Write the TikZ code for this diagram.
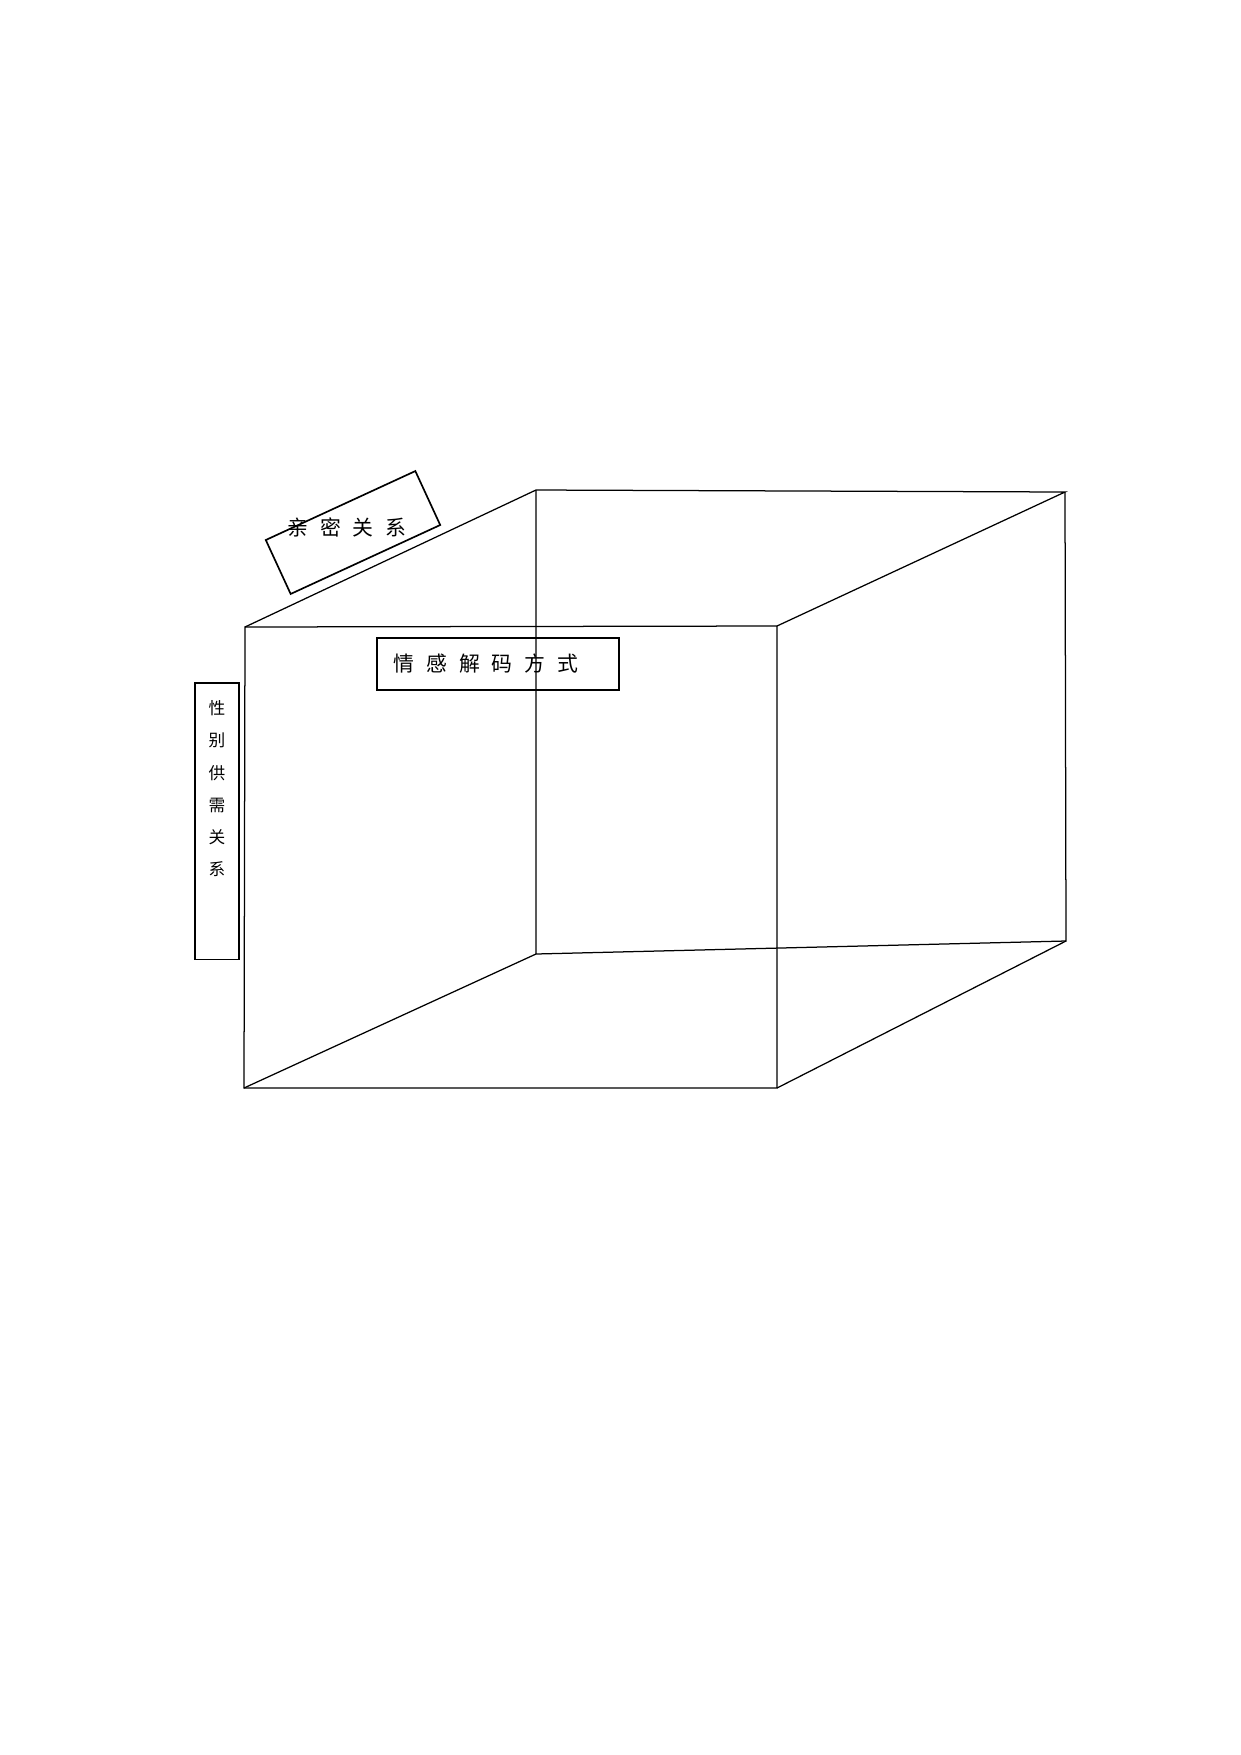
\documentclass[tikz,border=0pt]{standalone}
\usepackage{fontspec}
\newfontfamily\cjk{Noto Sans CJK SC}
\usetikzlibrary{positioning}
\tikzstyle{box}  = [draw,rectangle,line width=0.8pt,inner sep=0pt]
\tikzstyle{word} = [font=\cjk\fontsize{10}{12}\selectfont,inner sep=0pt]
\newcommand{\gap}{\hspace{5.7pt}}

\begin{document}
\begin{tikzpicture}[x=0.4797pt,y=-0.4797pt,line width=0.6pt]
\useasboundingbox (0,0) rectangle (1241,1755);

% corners of the cube
\coordinate (F1) at (245,627);
\coordinate (F2) at (777,626);
\coordinate (F3) at (777,1088);
\coordinate (F4) at (244,1088);
\coordinate (B1) at (536,490);
\coordinate (B2) at (1065,492);
\coordinate (B3) at (1066,941);
\coordinate (B4) at (536,954);

\draw (F1) -- (F2) -- (F3) -- (F4) -- cycle;
\draw (F1) -- (B1) -- (B2) -- (F2);
\draw (B1) -- (B4) -- (B3) -- (B2);
\draw (F4) -- (B4);
\draw (F3) -- (B3);

% axis labels
\node[box, rotate=24.75, minimum width=79pt, minimum height=28.5pt] (L1) at (353,532.5) {};
\node[word] (T1) at (347,527) {亲\gap{}密\gap{}关\gap{}系};

\node[box, minimum width=116.4pt, minimum height=24.7pt] (L2) at (498,664) {};
\node[word] (T2) at ([xshift=-5.8pt]L2.center) {情\gap{}感\gap{}解\gap{}码\gap{}方\gap{}式};

\node[box, minimum width=20.8pt, minimum height=132.5pt] (L3) at (217,821.4) {};
\node[word, font=\cjk\fontsize{8}{15.4}\selectfont, align=center, below=8.5pt of L3.north] (T3)
  {性\\别\\供\\需\\关\\系};

\end{tikzpicture}
\end{document}
